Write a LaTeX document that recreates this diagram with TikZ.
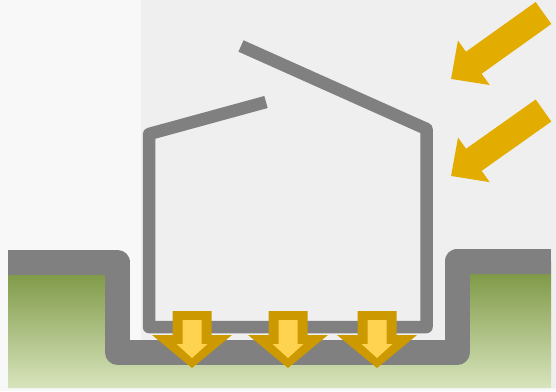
\documentclass[tikz,border=0pt]{standalone}
\usepackage{tikz}
\usetikzlibrary{arrows.meta}

\definecolor{wallgray}{HTML}{808080}
\definecolor{skygray}{HTML}{EFEFEF}
\definecolor{paleback}{HTML}{F8F8F8}
\definecolor{soildark}{HTML}{76923C}
\definecolor{soillight}{HTML}{D8E4BC}
\definecolor{sungold}{HTML}{E2AC00}
\definecolor{heatgold}{HTML}{CC9900}
\definecolor{heatlight}{HTML}{FFD34F}

\begin{document}
\begin{tikzpicture}[
        x=1pt, y=-1pt,
        band/.style={draw=wallgray, line width=25pt, line join=round},
        wall/.style={draw=wallgray, line width=12.5pt, line join=round},
        sunray/.style={draw=sungold, line width=27pt, -{Triangle[length=28pt, width=53pt]}},
        heatout/.style={fill=heatgold},
        heatin/.style={fill=heatlight}
    ]
        \useasboundingbox (0,0) rectangle (556,391);

        % Background
        \fill[paleback] (0,0) rectangle (556,391);
        \fill[skygray] (141,0) rectangle (556,388);

        % Ground profile
        \coordinate (gl) at (8,262);
        \coordinate (gcl) at (117.5,262);
        \coordinate (gbl) at (117.5,352.5);
        \coordinate (gbr) at (457,352.5);
        \coordinate (gcr) at (457,261);
        \coordinate (gr) at (551,261);

        \shade[top color=soildark, bottom color=soillight]
            (gl) -- (gcl) -- (gbl) -- (gbr) -- (gcr) -- (gr) -- (551,388) -- (8,388) -- cycle;
        \draw[band] (gl) -- (gcl) -- (gbl) -- (gbr) -- (gcr) -- (gr);

        % House
        \coordinate (eaveL) at (266,102);
        \coordinate (cornerL) at (149,134);
        \coordinate (floorL) at (149,327);
        \coordinate (floorR) at (426.5,327);
        \coordinate (cornerR) at (426.5,129);
        \coordinate (ridge) at (241,46);
        \draw[wall] (eaveL) -- (cornerL) -- (floorL) -- (floorR) -- (cornerR) -- (ridge);

        % Heat flowing into the ground
        \foreach \cx in {192,288,377} {
            \fill[heatout] (\cx-19.5,311) -- (\cx+19.5,311) -- (\cx+19.5,335) -- (\cx+40,335)
                -- (\cx,368) -- (\cx-40,335) -- (\cx-19.5,335) -- cycle;
            \fill[heatin] (\cx-9.5,320) -- (\cx+9.5,320) -- (\cx+9.5,344) -- (\cx+15.5,344)
                -- (\cx,358) -- (\cx-15.5,344) -- (\cx-9.5,344) -- cycle;
        }

        % Sunlight
        \coordinate (ray1) at (543.5,13);
        \coordinate (hit1) at (451,79);
        \coordinate (ray2) at (543.5,110.5);
        \coordinate (hit2) at (451,176);
        \draw[sunray] (ray1) -- (hit1);
        \draw[sunray] (ray2) -- (hit2);
    \end{tikzpicture}
\end{document}
